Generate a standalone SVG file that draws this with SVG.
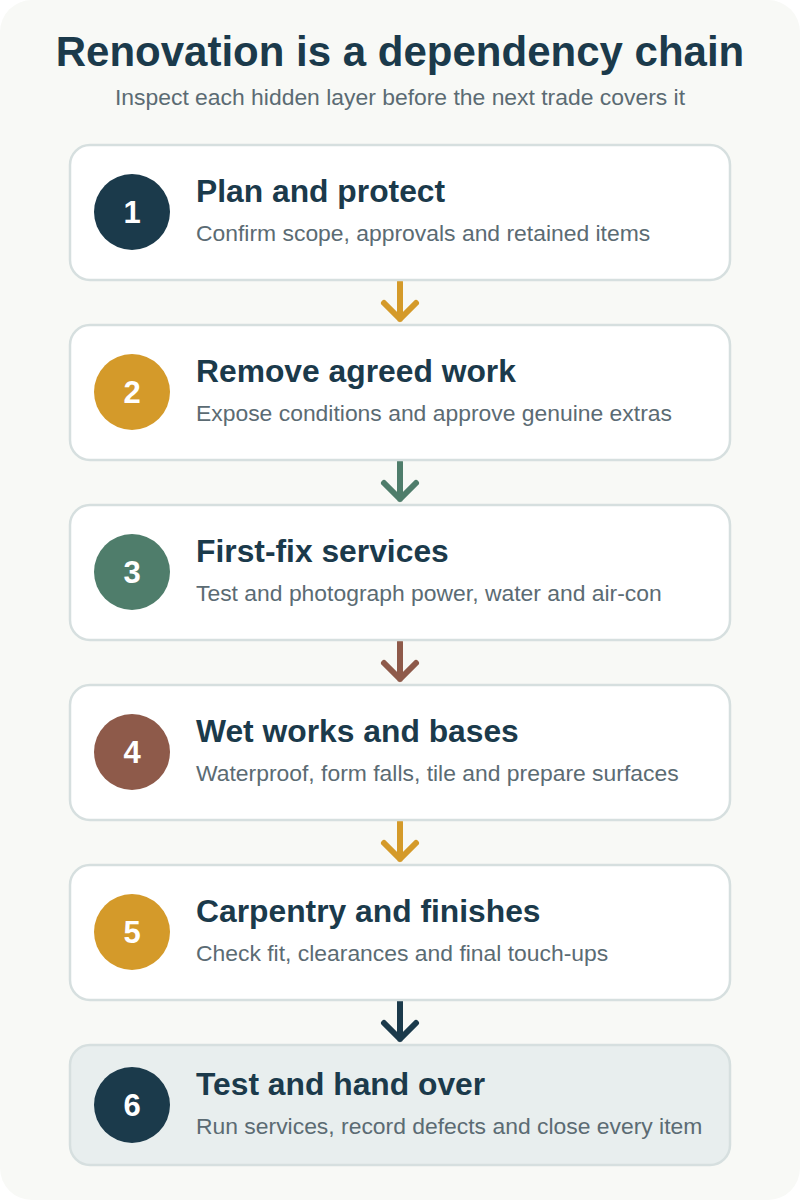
<svg xmlns="http://www.w3.org/2000/svg" width="800" height="1200" viewBox="0 0 800 1200">
<style>
.card{fill:#ffffff;stroke:#d6dfdf;stroke-width:2.5}
.card.last{fill:#e8eeee}
.num{font-family:"Liberation Sans",Arial,sans-serif;font-weight:bold;font-size:31px;fill:#ffffff;text-anchor:middle}
.ttl{font-family:"Liberation Sans",Arial,sans-serif;font-weight:bold;font-size:31.8px;fill:#1b3a4b}
.sub{font-family:"Liberation Sans",Arial,sans-serif;font-size:22.9px;fill:#5b6b73}
.arr{fill:none;stroke-width:6;stroke-linecap:round;stroke-linejoin:round}
</style>
<rect x="0" y="0" width="800" height="1200" fill="#ffffff"/>
<rect x="0" y="0" width="800" height="1200" rx="32" fill="#f8f9f6"/>
<text x="400" y="66" text-anchor="middle" font-family="Liberation Sans,Arial,sans-serif" font-weight="bold" font-size="42" fill="#1b3a4b">Renovation is a dependency chain</text>
<text x="400" y="105" text-anchor="middle" font-family="Liberation Sans,Arial,sans-serif" font-size="22.9" fill="#5b6b73">Inspect each hidden layer before the next trade covers it</text>
<g id="connectors">
<g class="arr" stroke="#d49a2a"><path d="M400 282V319M384 303L400 319L416 303"/></g>
<g class="arr" stroke="#4f7d6b"><path d="M400 462V499M384 483L400 499L416 483"/></g>
<g class="arr" stroke="#8e5a4a"><path d="M400 642V679M384 663L400 679L416 663"/></g>
<g class="arr" stroke="#d49a2a"><path d="M400 822V859M384 843L400 859L416 843"/></g>
<g class="arr" stroke="#1b3a4b"><path d="M400 1000V1039M384 1023L400 1039L416 1023"/></g>
</g>
<g id="step1">
<rect class="card" x="70" y="145" width="660" height="135" rx="20"/>
<circle cx="132" cy="212" r="38" fill="#1b3a4b"/>
<text class="num" x="132" y="223">1</text>
<text class="ttl" x="196" y="202">Plan and protect</text>
<text class="sub" x="196" y="241">Confirm scope, approvals and retained items</text>
</g>
<g id="step2">
<rect class="card" x="70" y="325" width="660" height="135" rx="20"/>
<circle cx="132" cy="392" r="38" fill="#d49a2a"/>
<text class="num" x="132" y="403">2</text>
<text class="ttl" x="196" y="382">Remove agreed work</text>
<text class="sub" x="196" y="421">Expose conditions and approve genuine extras</text>
</g>
<g id="step3">
<rect class="card" x="70" y="505" width="660" height="135" rx="20"/>
<circle cx="132" cy="572" r="38" fill="#4f7d6b"/>
<text class="num" x="132" y="583">3</text>
<text class="ttl" x="196" y="562">First-fix services</text>
<text class="sub" x="196" y="601">Test and photograph power, water and air-con</text>
</g>
<g id="step4">
<rect class="card" x="70" y="685" width="660" height="135" rx="20"/>
<circle cx="132" cy="752" r="38" fill="#8e5a4a"/>
<text class="num" x="132" y="763">4</text>
<text class="ttl" x="196" y="742">Wet works and bases</text>
<text class="sub" x="196" y="781">Waterproof, form falls, tile and prepare surfaces</text>
</g>
<g id="step5">
<rect class="card" x="70" y="865" width="660" height="135" rx="20"/>
<circle cx="132" cy="932" r="38" fill="#d49a2a"/>
<text class="num" x="132" y="943">5</text>
<text class="ttl" x="196" y="922">Carpentry and finishes</text>
<text class="sub" x="196" y="961">Check fit, clearances and final touch-ups</text>
</g>
<g id="step6">
<rect class="card last" x="70" y="1045" width="660" height="120" rx="20"/>
<circle cx="132" cy="1105" r="38" fill="#1b3a4b"/>
<text class="num" x="132" y="1116">6</text>
<text class="ttl" x="196" y="1095">Test and hand over</text>
<text class="sub" x="196" y="1134">Run services, record defects and close every item</text>
</g>
</svg>
